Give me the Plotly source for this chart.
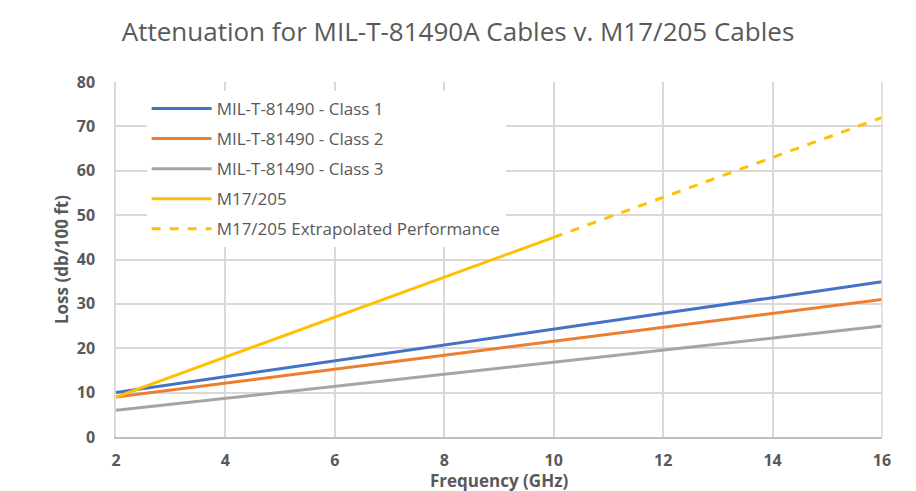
import plotly.graph_objects as go

freq = [2, 4, 6, 8, 10, 12, 14, 16]
class1 = [10, 13.6, 17.1, 20.7, 24.3, 27.9, 31.4, 35]
class2 = [9, 12.1, 15.3, 18.4, 21.6, 24.7, 27.9, 31]
class3 = [6, 8.7, 11.4, 14.1, 16.9, 19.6, 22.3, 25]
m17_freq = [2, 4, 6, 8, 10]
m17 = [9, 18, 27, 36, 45]
m17x_freq = [10, 12, 14, 16]
m17x = [45, 54, 63, 72]

FONT = "Open Sans"
GRAY = "#595959"

fig = go.Figure()
specs = [
    (freq, class1, "MIL-T-81490 - Class 1", "#4472C4", "solid"),
    (freq, class2, "MIL-T-81490 - Class 2", "#ED7D31", "solid"),
    (freq, class3, "MIL-T-81490 - Class 3", "#A5A5A5", "solid"),
    (m17_freq, m17, "M17/205", "#FFC000", "solid"),
    (m17x_freq, m17x, "M17/205 Extrapolated Performance", "#FFC000", "dash"),
]
for i, (xs, ys, nm, col, dash) in enumerate(specs):
    fig.add_trace(go.Scatter(x=xs, y=ys, mode="lines", name=nm, legendgroup=f"g{i}",
                             line=dict(color=col, width=3, dash=dash)))

fig.update_layout(
    width=916, height=491,
    margin=dict(l=116, r=34, t=82, b=54),
    paper_bgcolor="white", plot_bgcolor="white",
    font=dict(family=FONT, color=GRAY),
    title=dict(text="Attenuation for MIL-T-81490A Cables v. M17/205 Cables",
               x=0.5, xanchor="center", y=0.935, yanchor="middle",
               font=dict(size=26, color=GRAY, family=FONT)),
    xaxis=dict(range=[2, 16], dtick=2, tick0=2, showgrid=True, gridcolor="#d9d9d9", gridwidth=1.5,
               showline=True, linecolor="#bfbfbf", linewidth=1.5, zeroline=False, mirror=False,
               ticks="", ticklabelstandoff=8, automargin=False,
               tickfont=dict(size=16, color=GRAY, family=FONT, weight="bold")),
    yaxis=dict(range=[0, 80], dtick=10, showgrid=True, gridcolor="#d9d9d9", gridwidth=1.5,
               showline=True, linecolor="#d9d9d9", linewidth=1.5, zeroline=False,
               ticks="", ticklabelstandoff=16, automargin=False,
               tickfont=dict(size=16, color=GRAY, family=FONT, weight="bold"),
               title=dict(text="Loss (db/100 ft)", standoff=4,
                          font=dict(size=17, color=GRAY, family=FONT, weight="bold"))),
    legend=dict(x=0.04, y=0.975, xanchor="left", yanchor="top", bgcolor="white",
                font=dict(size=17, color=GRAY, family=FONT), itemwidth=60, tracegroupgap=5),
    showlegend=True,
)
fig.add_annotation(text="Frequency (GHz)", xref="paper", yref="paper", x=0.5, y=-43 / 355,
                   xanchor="center", yanchor="middle", showarrow=False,
                   font=dict(size=17, color=GRAY, family=FONT, weight="bold"))
fig.add_shape(type="line", xref="paper", yref="paper", x0=1, x1=1, y0=0, y1=1,
              line=dict(color="#d9d9d9", width=1.5))

fig.write_html("out.html")
